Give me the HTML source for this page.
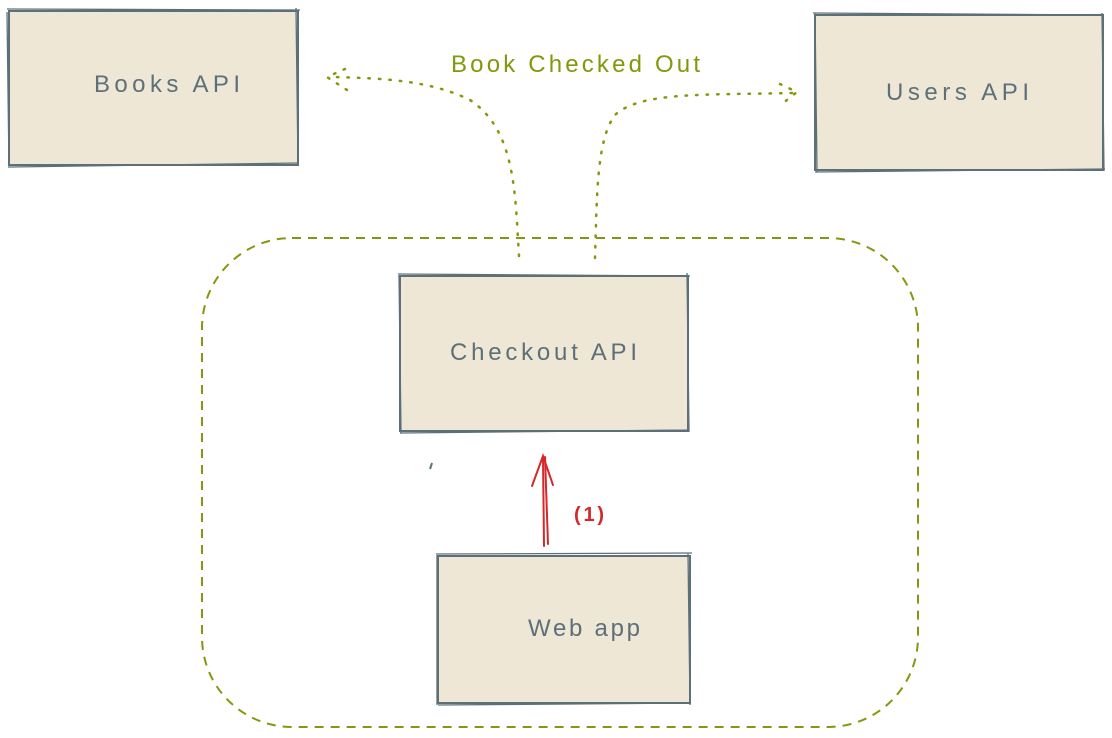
<!DOCTYPE html>
<html><head><meta charset="utf-8"><style>
html,body{margin:0;padding:0;background:#fff;width:1112px;height:738px;overflow:hidden}
text{font-family:"Comic Sans MS","Liberation Sans",sans-serif}
</style></head><body>
<svg width="1112" height="738" viewBox="0 0 1112 738" xmlns="http://www.w3.org/2000/svg">
<g fill="#efe7d5" stroke="#5d707a" stroke-width="2">
<rect x="9" y="11" width="289" height="154"/>
<path d="M7 9 L300 10 M10 167 L299 163 M296 8 L298 166 M7 12 L9 168" fill="none" stroke-width="1.3"/>
<rect x="815" y="15" width="288" height="155"/>
<path d="M813 13 L1104 15 M815 172 L1105 169 M1102 13 L1104 171 M815 13 L817 172" fill="none" stroke-width="1.3"/>
<rect x="400" y="276" width="288" height="155"/>
<path d="M398 274 L690 276 M400 433 L689 430 M687 273 L689 432 M399 275 L401 433" fill="none" stroke-width="1.3"/>
<rect x="438" y="556" width="252" height="147"/>
<path d="M436 554 L692 553 M438 705 L691 703 M688 553 L690 705 M437 555 L437 705" fill="none" stroke-width="1.3"/>
</g>
<rect x="202" y="238" width="716" height="489" rx="90" ry="90" fill="none" stroke="#7f9a0c" stroke-width="2" stroke-dasharray="9 7"/>
<g fill="none" stroke="#7f9a0c" stroke-width="2.5" stroke-dasharray="1.5 9" stroke-linecap="round">
<path d="M519 256 C515 190 515 130 470 100 C430 80 380 78 330 77"/>
<path d="M595 258 C597 200 596 140 615 115 C640 92 700 95 795 93"/>
<path d="M345 69 L327 77 L347 90"/>
<path d="M780 84 L797 92 L782 104"/>
</g>
<g stroke="#d6282a" stroke-width="2" fill="none" stroke-linecap="round">
<path d="M544 546 L543 458 M548 544 L545 457"/>
<path d="M532 486 L543 456 L553 485"/>
</g>
<path d="M432 463 L430 469" stroke="#5d707a" stroke-width="2"/>
<g fill="#5d707a" font-size="24" lengthAdjust="spacing">
<text x="94" y="92" textLength="146">Books API</text>
<text x="886" y="100" textLength="143">Users API</text>
<text x="450" y="360" textLength="187">Checkout API</text>
<text x="528" y="636" textLength="112">Web app</text>
</g>
<text x="451" y="72" fill="#7f9a0c" font-size="24" textLength="249">Book Checked Out</text>
<text x="574" y="521" fill="#d6282a" font-size="20" font-weight="bold" textLength="30">(1)</text>
</svg>
</body></html>
